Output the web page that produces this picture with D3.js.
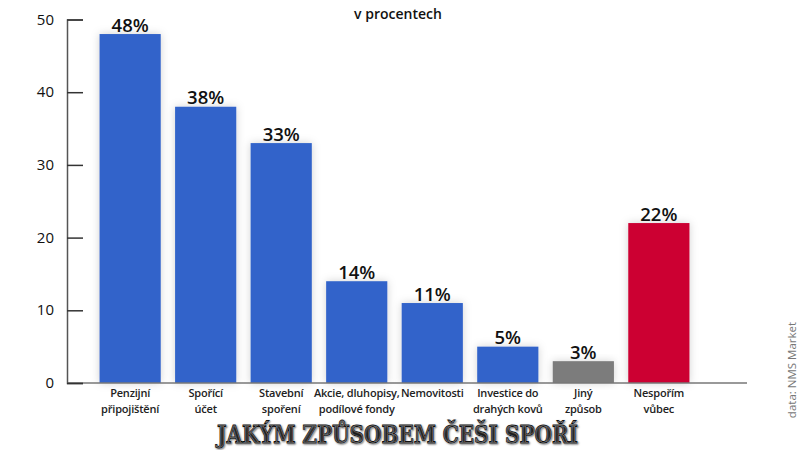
<!DOCTYPE html>
<html lang="cs">
<head>
<meta charset="UTF-8">
<title>Jakým způsobem Češi spoří</title>
<script src="https://d3js.org/d3.v7.min.js"></script>
<style>
  body { margin: 0; background: #fff; }
  .canvas svg { display: block; }
</style>
</head>
<body>
<div class="canvas"></div>
<script>
  // data
  const categories = [
    ['Penzijní', 'připojištění'],
    ['Spořící', 'účet'],
    ['Stavební', 'spoření'],
    ['Akcie, dluhopisy,', 'podílové fondy'],
    ['Nemovitosti'],
    ['Investice do', 'drahých kovů'],
    ['Jiný', 'způsob'],
    ['Nespořím', 'vůbec']
  ]
  const values = [48, 38, 33, 14, 11, 5, 3, 22]
  const barColors = ['#3264ca', '#3264ca', '#3264ca', '#3264ca', '#3264ca', '#3264ca', '#7b7b7b', '#cc0033']
  const yTicks = [0, 10, 20, 30, 40, 50]

  const W = 798, H = 450
  const svg = d3.select('.canvas')
    .append('svg')
    .attr('width', W)
    .attr('height', H)

  const defs = svg.append('defs')
  const glow = defs.append('filter').attr('id', 'glow')
    .attr('x', '-30%').attr('y', '-30%').attr('width', '160%').attr('height', '160%')
  glow.append('feDropShadow')
    .attr('dx', 0).attr('dy', 0).attr('stdDeviation', 4)
    .attr('flood-color', '#000').attr('flood-opacity', 0.18)

  const x = d3.scaleBand()
    .domain(d3.range(values.length))
    .range([92, 697])
    .paddingInner(0.19)
    .paddingOuter(0.1)

  const y = d3.scaleLinear()
    .domain([0, 50])
    .range([383, 19.5])

  // bars
  svg.append('g').selectAll('rect')
    .data(values)
    .join('rect')
    .attr('x', (d, i) => x(i))
    .attr('y', d => y(d))
    .attr('width', x.bandwidth())
    .attr('height', d => y(0) - y(d))
    .attr('fill', (d, i) => barColors[i])
    .attr('filter', 'url(#glow)')

  // value labels
  svg.append('g').selectAll('text')
    .data(values)
    .join('text')
    .attr('x', (d, i) => x(i) + x.bandwidth() / 2)
    .attr('y', d => y(d) - 2.5)
    .attr('text-anchor', 'middle')
    .attr('font-family', 'Open Sans, sans-serif')
    .attr('font-weight', 600)
    .attr('font-size', 18.5)
    .attr('fill', '#111')
    .text(d => d + '%')

  // baseline
  svg.append('line')
    .attr('x1', 67).attr('x2', 747)
    .attr('y1', y(0)).attr('y2', y(0))
    .attr('stroke', '#777').attr('stroke-width', 1.5)

  // y axis
  const yAxis = svg.append('g')
    .attr('transform', 'translate(67,0)')
    .call(d3.axisRight(y).tickValues(yTicks).tickSize(16).tickFormat(''))
  yAxis.select('.domain').attr('stroke', '#555').attr('stroke-width', 1.5)
  yAxis.selectAll('.tick line').attr('stroke', '#333').attr('stroke-width', 1.5)

  svg.append('g').selectAll('text')
    .data(yTicks)
    .join('text')
    .attr('x', 54)
    .attr('y', d => y(d) + 5)
    .attr('text-anchor', 'end')
    .attr('font-family', 'Open Sans, sans-serif')
    .attr('font-size', 15)
    .attr('fill', '#111')
    .text(d => d)

  // category labels
  const cat = svg.append('g').selectAll('text')
    .data(categories)
    .join('text')
    .attr('text-anchor', 'middle')
    .attr('font-family', 'Open Sans, sans-serif')
    .attr('font-weight', 600)
    .attr('font-size', 11)
    .attr('letter-spacing', -0.2)
    .attr('fill', '#222')
  cat.selectAll('tspan')
    .data((d, i) => d.map(t => ({ t, i })))
    .join('tspan')
    .attr('x', d => x(d.i) + x.bandwidth() / 2)
    .attr('y', (d, j) => 397 + j * 15.5)
    .text(d => d.t)

  // subtitle
  svg.append('text')
    .attr('x', 398).attr('y', 19)
    .attr('text-anchor', 'middle')
    .attr('font-family', 'Open Sans, sans-serif')
    .attr('font-weight', 600)
    .attr('font-size', 14)
    .attr('fill', '#111')
    .text('v procentech')

  // title
  svg.append('text')
    .attr('x', 397.5).attr('y', 443)
    .attr('text-anchor', 'middle')
    .attr('font-family', 'DejaVu Serif, serif')
    .attr('font-weight', 'bold')
    .attr('font-stretch', 'condensed')
    .attr('font-size', 25)
    .attr('textLength', 361)
    .attr('lengthAdjust', 'spacingAndGlyphs')
    .attr('fill', '#111')
    .attr('stroke', '#111')
    .attr('stroke-width', 0.9)
    .style('text-shadow', '0 0 1px #fff, 1px 1px 2px #777')
    .text('JAKÝM ZPŮSOBEM ČEŠI SPOŘÍ')

  // source
  svg.append('text')
    .attr('transform', 'translate(796,370) rotate(-90)')
    .attr('text-anchor', 'middle')
    .attr('font-family', 'Open Sans, sans-serif')
    .attr('font-size', 11.5)
    .attr('fill', '#777')
    .text('data: NMS Market')
</script>
</body>
</html>
